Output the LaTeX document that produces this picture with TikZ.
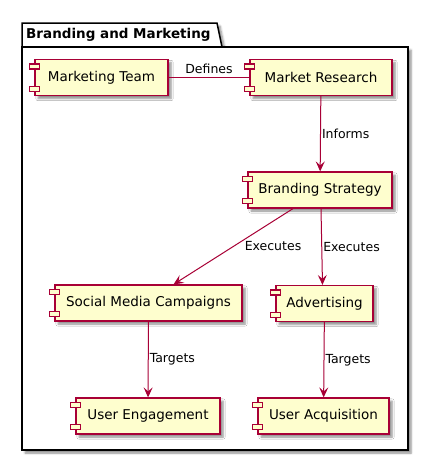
\documentclass[tikz,border=0pt]{standalone}
\usepackage{fontspec}
\setmainfont{DejaVu Sans}
\usetikzlibrary{arrows.meta,shadows.blur,calc}
\definecolor{compfill}{HTML}{FEFECE}
\definecolor{compline}{HTML}{A80036}
\begin{document}
\begin{tikzpicture}[x=1pt,y=-1pt,
  comp/.style={draw=compline, fill=compfill, line width=1.2pt, minimum height=36pt,
    inner sep=0pt, font=\fontsize{13.5}{16}\selectfont,
    blur shadow={shadow xshift=3pt, shadow yshift=-3pt, shadow blur steps=5, shadow opacity=45}},
  comprect/.style={draw=compline, fill=compfill, line width=1.2pt},
  conn/.style={draw=compline, line width=1pt},
  arr/.style={conn, -{Stealth[length=10pt,width=9pt,inset=4pt]}},
  lbl/.style={font=\fontsize{12.5}{15}\selectfont, inner sep=1pt, text=black},
  pkg/.style={draw=black, fill=white, line width=1.5pt,
    blur shadow={shadow xshift=3pt, shadow yshift=-3pt, shadow blur steps=5, shadow opacity=45}}]
\useasboundingbox (0,0) rectangle (429,461);
% package
\path[pkg] (22,47) -- (22,23) -- (217,23) -- (222,47) -- cycle;
\path[pkg] (22,47) rectangle (408,450);
\node[anchor=west, inner sep=0pt, font=\bfseries\fontsize{13.5}{16}\selectfont] (title) at (26,35) {Branding and Marketing};
% components
\node[comp, minimum width=133pt] (mt) at (101.5,77.5) {Marketing Team};
\node[comp, minimum width=142pt] (mr) at (321,77.5) {Market Research};
\node[comp, minimum width=144pt] (bs) at (320,190) {Branding Strategy};
\node[comp, minimum width=187pt] (smc) at (148.5,303) {Social Media Campaigns};
\node[comp, minimum width=97pt] (adv) at (324.5,303.5) {Advertising};
\node[comp, minimum width=144pt] (ue) at (148,416) {User Engagement};
\node[comp, minimum width=131pt] (ua) at (323.5,416) {User Acquisition};
\foreach \n in {mt,mr,bs,smc,adv,ue,ua}{
  \draw[comprect] ($(\n.north west)+(-5,5)$) rectangle ++(10,5);
  \draw[comprect] ($(\n.south west)+(-5,-10)$) rectangle ++(10,5);
}
% connectors
\draw[conn] (mt) -- node[lbl, above=2pt]{Defines} (mr);
\draw[arr] (mr) -- node[lbl, right]{Informs} (bs);
\draw[arr] ([xshift=-27pt]bs.south) -- node[lbl, anchor=west, xshift=10pt]{Executes} ([xshift=25pt]smc.north);
\draw[arr] ([xshift=1pt]bs.south) -- node[lbl, right]{Executes} ([xshift=-2pt]adv.north);
\draw[arr] (smc) -- node[lbl, right]{Targets} (ue);
\draw[arr] (adv) -- node[lbl, right]{Targets} (ua);
\end{tikzpicture}
\end{document}
